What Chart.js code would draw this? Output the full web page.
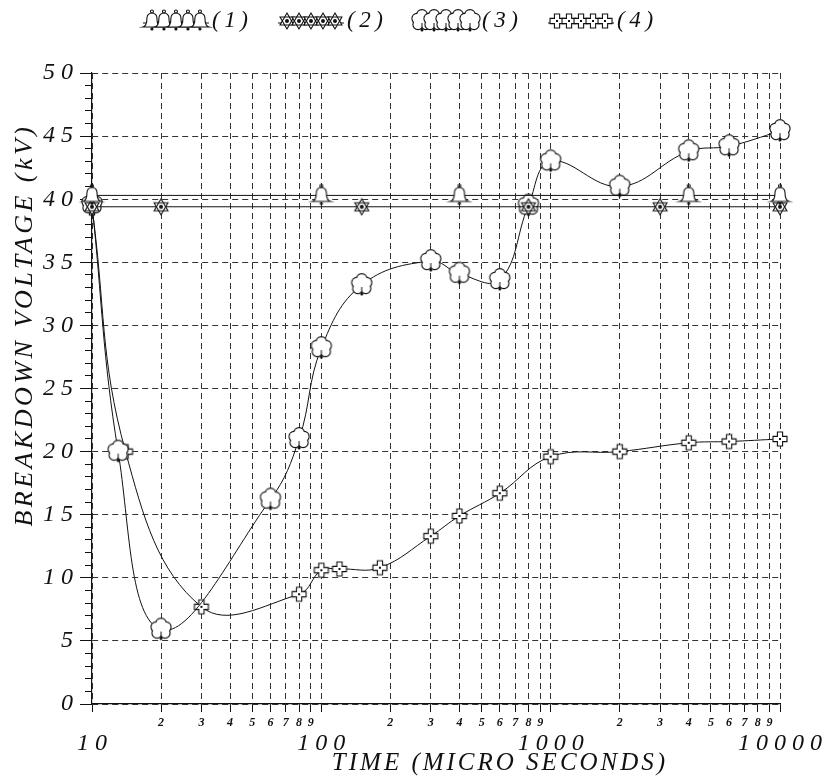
<!DOCTYPE html>
<html>
<head>
<meta charset="utf-8">
<script src="https://cdn.jsdelivr.net/npm/chart.js@4.4.0/dist/chart.umd.min.js"></script>
<style>
  html, body { margin: 0; padding: 0; background: #fff; }
  canvas { display: block; }
</style>
</head>
<body>
<canvas id="chart" width="833" height="781"></canvas>
<script>
// values: time in micro seconds, breakdown voltage in kV
const bellTimes = [10, 100, 400, 4000, 10000];
const bellVolts = [40.3, 40.3, 40.3, 40.3, 40.3];
const starTimes = [10, 20, 150, 800, 3000, 10000];
const starVolts = [39.4, 39.4, 39.4, 39.4, 39.4, 39.4];
const cloudTimes = [10, 13, 20, 60, 80, 100, 150, 300, 400, 600, 800, 1000, 2000, 4000, 6000, 10000];
const cloudVolts = [39.6, 20, 5.9, 16.2, 21, 28.2, 33.2, 35.1, 34.1, 33.6, 39.5, 43, 41, 43.8, 44.2, 45.4];
const crossTimes = [10, 14, 30, 80, 100, 120, 180, 300, 400, 600, 1000, 2000, 4000, 6000, 10000];
const crossVolts = [39.3, 20, 7.7, 8.7, 10.6, 10.7, 10.8, 13.3, 14.9, 16.7, 19.6, 20, 20.7, 20.8, 21];

// axis ticks
const xTicks = [10, 20, 30, 40, 50, 60, 70, 80, 90,
                100, 200, 300, 400, 500, 600, 700, 800, 900,
                1000, 2000, 3000, 4000, 5000, 6000, 7000, 8000, 9000, 10000];
const xMajor = [10, 100, 1000, 10000];
const yTicks = [0, 5, 10, 15, 20, 25, 30, 35, 40, 45, 50];
const yMinorTicks = [0, 1, 2, 3, 4, 5, 6, 7, 8, 9, 10, 11, 12, 13, 14, 15, 16, 17, 18, 19, 20,
                     21, 22, 23, 24, 25, 26, 27, 28, 29, 30, 31, 32, 33, 34, 35, 36, 37, 38, 39, 40,
                     41, 42, 43, 44, 45, 46, 47, 48, 49, 50];
const legendLabels = ['(\u20091\u2009)', '(\u20092\u2009)', '(\u20093\u2009)', '(\u20094\u2009)'];

const SERIF = '"Liberation Serif", "DejaVu Serif", serif';
const INK = '#111';

// marker shapes
function drawBell(c, x, y) {
    c.beginPath();
    c.moveTo(x - 9, y + 6);
    c.quadraticCurveTo(x - 5, y + 5, x - 5, y - 3);
    c.arc(x, y - 3, 5, Math.PI, 2 * Math.PI);
    c.quadraticCurveTo(x + 5, y + 5, x + 9, y + 6);
    c.closePath();
    c.fill();
    c.stroke();
    c.beginPath();
    c.arc(x, y - 9.5, 1.5, 0, 2 * Math.PI);
    c.stroke();
    c.save();
    c.fillStyle = INK;
    c.beginPath();
    c.arc(x, y + 8, 1.6, 0, 2 * Math.PI);
    c.fill();
    c.restore();
}

function drawStar(c, x, y) {
    const r = 8;
    const tri = (off) => {
        c.beginPath();
        for (let k = 0; k < 3; k++) {
            const a = (off + k * 120) * Math.PI / 180;
            const px = x + r * Math.cos(a), py = y + r * Math.sin(a);
            if (k) c.lineTo(px, py); else c.moveTo(px, py);
        }
        c.closePath();
    };
    tri(-90); c.fill();
    tri(90); c.fill();
    tri(-90); c.stroke();
    tri(90); c.stroke();
    c.save();
    c.fillStyle = INK;
    c.beginPath();
    c.arc(x, y, 2, 0, 2 * Math.PI);
    c.fill();
    c.restore();
}

function drawCloud(c, x, y) {
    const lobes = [[0, -6, 4.8], [-5, -2.5, 4.5], [5, -2.5, 4.5], [-4, 3.5, 4.5], [4, 3.5, 4.5]];
    c.save();
    c.lineWidth = 2.3;
    lobes.forEach(([dx, dy, r]) => {
        c.beginPath();
        c.arc(x + dx, y + dy, r, 0, 2 * Math.PI);
        c.stroke();
    });
    lobes.concat([[0, 0, 4]]).forEach(([dx, dy, r]) => {
        c.beginPath();
        c.arc(x + dx, y + dy, r, 0, 2 * Math.PI);
        c.fill();
    });
    c.lineWidth = 1;
    c.beginPath();
    c.moveTo(x, y + 2);
    c.lineTo(x, y + 10);
    c.stroke();
    c.fillStyle = INK;
    c.beginPath();
    c.arc(x, y + 9, 1.5, 0, 2 * Math.PI);
    c.fill();
    c.restore();
}

function drawCross(c, x, y) {
    const a = 7, b = 2.6;
    const pts = [[-b, -a], [b, -a], [b, -b], [a, -b], [a, b], [b, b], [b, a], [-b, a], [-b, b], [-a, b], [-a, -b], [-b, -b]];
    c.beginPath();
    pts.forEach(([dx, dy], i) => i ? c.lineTo(x + dx, y + dy) : c.moveTo(x + dx, y + dy));
    c.closePath();
    c.fill();
    c.stroke();
    c.save();
    c.fillStyle = INK;
    c.fillRect(x - 1, y - 1, 2, 2);
    c.restore();
}

function makeMarker(drawFn) {
    const cv = document.createElement('canvas');
    cv.width = 28;
    cv.height = 30;
    const c = cv.getContext('2d');
    c.lineWidth = 1.1;
    c.strokeStyle = INK;
    c.fillStyle = '#fff';
    drawFn(c, 14, 15);
    return cv;
}

const markerFns = [drawBell, drawStar, drawCloud, drawCross];
const markerImgs = markerFns.map(makeMarker);

function pairs(xs, ys) {
    return xs.map((x, i) => ({ x: x, y: ys[i] }));
}

// legend: five markers on a line followed by the label
const legendPlugin = {
    id: 'rowLegend',
    afterDraw(chart) {
        const c = chart.ctx;
        const step = 12, rowW = 4 * step + 18, gap = 3, spacing = 30, y = 21;
        c.save();
        c.font = 'italic 23px ' + SERIF;
        const widths = legendLabels.map(t => c.measureText(t).width);
        const total = widths.reduce((s, w) => s + rowW + gap + w, 0) + spacing * 3;
        let x = 398 - total / 2;
        legendLabels.forEach((label, i) => {
            c.strokeStyle = INK;
            c.lineWidth = 1;
            c.beginPath();
            c.moveTo(x, y + 2);
            c.lineTo(x + rowW, y + 2);
            c.stroke();
            c.lineWidth = 1.1;
            c.fillStyle = '#fff';
            for (let k = 0; k < 5; k++) markerFns[i](c, x + 9 + k * step, y);
            c.fillStyle = INK;
            c.textAlign = 'left';
            c.textBaseline = 'middle';
            c.fillText(label, x + rowW + gap, y);
            x += rowW + gap + widths[i] + spacing;
        });
        c.restore();
    }
};

// axis titles, spaced like the plotter lettering
const titlePlugin = {
    id: 'axisTitles',
    afterDraw(chart) {
        const c = chart.ctx;
        c.save();
        c.fillStyle = INK;
        c.textAlign = 'center';
        c.textBaseline = 'middle';
        if ('letterSpacing' in c) c.letterSpacing = '3px';
        c.font = 'italic 25px ' + SERIF;
        c.fillText('TIME (MICRO SECONDS)', 500, 763);
        c.translate(25, 325);
        c.rotate(-Math.PI / 2);
        c.font = 'italic 26px ' + SERIF;
        c.letterSpacing = '3.5px';
        c.fillText('BREAKDOWN VOLTAGE (kV)', 0, 0);
        c.restore();
    }
};

const lineStyle = {
    borderColor: INK,
    borderWidth: 1,
    backgroundColor: '#fff',
    pointRadius: 3,
    clip: false,
    fill: false
};

new Chart(document.getElementById('chart'), {
    type: 'line',
    data: {
        datasets: [
            { ...lineStyle, label: '(1)', data: pairs(bellTimes, bellVolts), pointStyle: markerImgs[0], tension: 0 },
            { ...lineStyle, label: '(2)', data: pairs(starTimes, starVolts), pointStyle: markerImgs[1], tension: 0 },
            { ...lineStyle, label: '(3)', data: pairs(cloudTimes, cloudVolts), pointStyle: markerImgs[2], tension: 0.4 },
            { ...lineStyle, label: '(4)', data: pairs(crossTimes, crossVolts), pointStyle: markerImgs[3], tension: 0.4 }
        ]
    },
    options: {
        responsive: false,
        animation: false,
        devicePixelRatio: 1,
        layout: { padding: { left: 0, right: 53, top: 73, bottom: 0 } },
        plugins: {
            legend: { display: false },
            tooltip: { enabled: false }
        },
        scales: {
            x: {
                type: 'logarithmic',
                position: 'bottom',
                min: 10,
                max: 10000,
                afterBuildTicks: (scale) => { scale.ticks = xTicks.map(v => ({ value: v })); },
                afterFit: (scale) => { scale.height = 77; },
                ticks: {
                    autoSkip: false,
                    maxRotation: 0,
                    minRotation: 0,
                    padding: 3,
                    color: INK,
                    callback: (v) => xMajor.includes(v) ? String(v).split('').join(' ') : String(v)[0],
                    font: (ctx) => (ctx.tick && xMajor.includes(ctx.tick.value))
                        ? { family: SERIF, style: 'italic', size: 24, lineHeight: 2.35 }
                        : { family: SERIF, style: 'italic', weight: 'bold', size: 12, lineHeight: 1.3 }
                },
                grid: { color: '#333', lineWidth: 1, tickLength: 8, tickColor: INK },
                border: { display: true, color: INK, width: 1.2, dash: [6, 4] }
            },
            y: {
                type: 'linear',
                position: 'left',
                weight: 1,
                min: 0,
                max: 50,
                afterBuildTicks: (scale) => { scale.ticks = yTicks.map(v => ({ value: v })); },
                afterFit: (scale) => { scale.width = 92; },
                ticks: {
                    padding: 7,
                    color: INK,
                    font: { family: SERIF, style: 'italic', size: 24 },
                    callback: (v) => String(v).split('').join(' ')
                },
                grid: { color: '#333', lineWidth: 1, tickLength: 12, tickColor: INK },
                border: { display: true, color: INK, width: 1.2, dash: [6, 4] }
            },
            yMinor: {
                type: 'linear',
                position: 'left',
                weight: 0,
                min: 0,
                max: 50,
                afterBuildTicks: (scale) => { scale.ticks = yMinorTicks.map(v => ({ value: v })); },
                afterFit: (scale) => { scale.width = 0; },
                ticks: { display: false },
                grid: { drawOnChartArea: false, tickLength: 7, tickColor: INK, color: INK },
                border: { display: false }
            }
        }
    },
    plugins: [legendPlugin, titlePlugin]
});
</script>
</body>
</html>
